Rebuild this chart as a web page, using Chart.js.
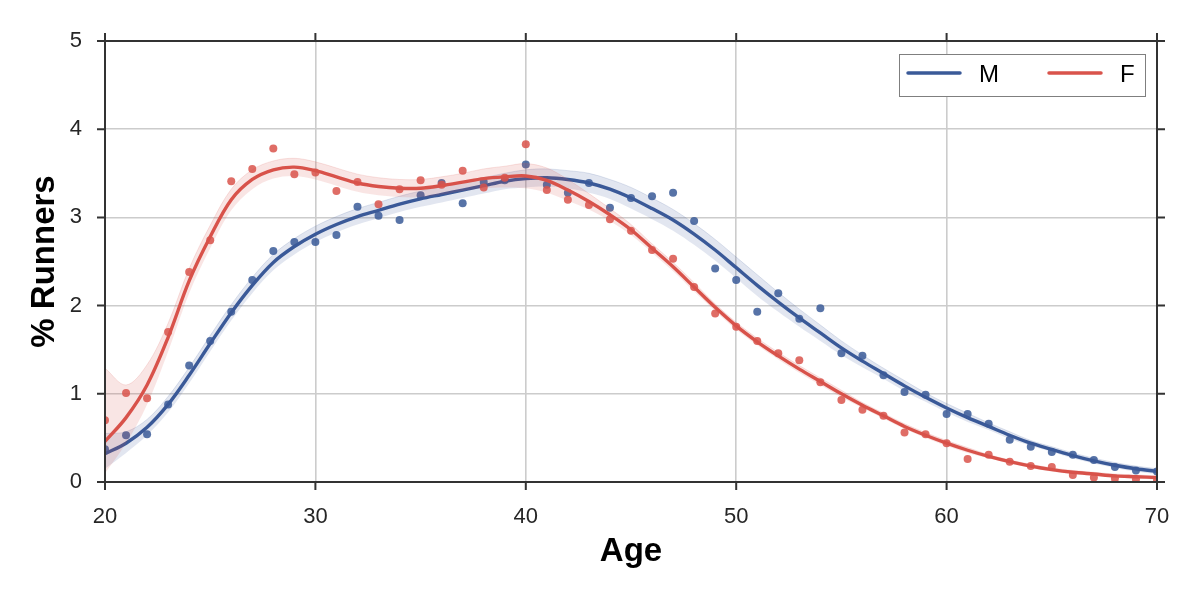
<!DOCTYPE html>
<html>
<head>
<meta charset="utf-8">
<script src="https://cdn.jsdelivr.net/npm/chart.js@4.4.1/dist/chart.umd.min.js"></script>
<style>
html,body{margin:0;padding:0;background:#fff;}
canvas{display:block;}
</style>
</head>
<body>
<canvas id="c" width="1200" height="600"></canvas>
<script>
const ages = [20,21,22,23,24,25,26,27,28,29,30,31,32,33,34,35,36,37,38,39,40,41,42,43,44,45,46,47,48,49,50,51,52,53,54,55,56,57,58,59,60,61,62,63,64,65,66,67,68,69,70];
const xTicks = [20,30,40,50,60,70];
const yTicks = [0,1,2,3,4,5];
const seriesNames = ["M","F"];

const mPoints = [0.37,0.53,0.54,0.88,1.32,1.60,1.93,2.29,2.62,2.72,2.72,2.80,3.12,3.02,2.97,3.25,3.39,3.16,3.40,3.42,3.60,3.37,3.28,3.39,3.11,3.22,3.24,3.28,2.96,2.42,2.29,1.93,2.14,1.85,1.97,1.46,1.43,1.21,1.02,0.99,0.77,0.77,0.66,0.48,0.40,0.34,0.31,0.25,0.17,0.13,0.12];
const fPoints = [0.70,1.01,0.95,1.70,2.38,2.74,3.41,3.55,3.78,3.49,3.51,3.30,3.40,3.15,3.32,3.42,3.37,3.53,3.34,3.45,3.83,3.31,3.20,3.14,2.98,2.85,2.63,2.53,2.21,1.91,1.76,1.60,1.46,1.38,1.13,0.93,0.82,0.75,0.56,0.54,0.44,0.26,0.31,0.23,0.18,0.17,0.08,0.05,0.04,0.03,0.02];

const mFit = [0.32,0.44,0.62,0.88,1.21,1.57,1.92,2.23,2.49,2.67,2.81,2.92,3.01,3.08,3.15,3.21,3.26,3.31,3.36,3.41,3.44,3.45,3.43,3.39,3.32,3.22,3.10,2.97,2.81,2.63,2.43,2.23,2.04,1.86,1.69,1.52,1.37,1.23,1.09,0.96,0.84,0.73,0.63,0.53,0.44,0.37,0.30,0.24,0.19,0.15,0.12];
const fFit = [0.46,0.73,1.10,1.64,2.28,2.78,3.20,3.43,3.54,3.57,3.53,3.46,3.39,3.35,3.33,3.33,3.36,3.40,3.44,3.46,3.47,3.42,3.31,3.18,3.03,2.86,2.65,2.44,2.21,1.98,1.77,1.59,1.43,1.28,1.14,1.00,0.87,0.75,0.63,0.53,0.44,0.36,0.29,0.23,0.18,0.14,0.11,0.09,0.07,0.06,0.05];

const mLow  = [0.15,0.33,0.53,0.79,1.12,1.48,1.83,2.14,2.40,2.58,2.72,2.83,2.92,2.99,3.06,3.12,3.17,3.22,3.27,3.32,3.34,3.35,3.33,3.28,3.21,3.10,2.98,2.85,2.69,2.51,2.31,2.11,1.93,1.76,1.60,1.44,1.30,1.17,1.03,0.91,0.79,0.68,0.59,0.49,0.41,0.34,0.27,0.21,0.16,0.12,0.09];
const mHigh = [0.55,0.57,0.71,0.97,1.30,1.66,2.01,2.32,2.58,2.76,2.90,3.01,3.10,3.17,3.24,3.30,3.35,3.40,3.45,3.50,3.54,3.55,3.53,3.50,3.43,3.34,3.22,3.09,2.93,2.75,2.55,2.35,2.15,1.96,1.78,1.60,1.44,1.29,1.15,1.01,0.89,0.78,0.67,0.57,0.47,0.40,0.33,0.27,0.22,0.18,0.15];
const fLow  = [0.10,0.44,0.88,1.48,2.14,2.65,3.08,3.32,3.44,3.47,3.43,3.36,3.29,3.25,3.23,3.23,3.26,3.30,3.33,3.34,3.33,3.28,3.19,3.09,2.96,2.80,2.60,2.39,2.16,1.94,1.73,1.55,1.39,1.24,1.10,0.96,0.84,0.72,0.60,0.50,0.41,0.33,0.27,0.21,0.16,0.12,0.09,0.07,0.05,0.04,0.03];
const fHigh = [1.29,1.10,1.33,1.80,2.42,2.91,3.32,3.54,3.64,3.67,3.63,3.56,3.49,3.45,3.43,3.43,3.46,3.50,3.55,3.58,3.61,3.56,3.43,3.27,3.10,2.92,2.70,2.49,2.26,2.02,1.81,1.63,1.47,1.32,1.18,1.04,0.90,0.78,0.66,0.56,0.47,0.39,0.31,0.25,0.20,0.16,0.13,0.11,0.09,0.08,0.07];

const BLUE = '#3a5a98';
const RED = '#d9534b';
const FONT = '"Liberation Sans", Arial, Helvetica, sans-serif';

function xy(vals){ return ages.map((a,i)=>({x:a,y:vals[i]})); }

function bandLine(vals, order){
  return {type:'line', data:xy(vals), borderWidth:0, pointRadius:0, tension:0.35, order:order, fill:false};
}

const datasets = [
  {type:'scatter', label:'Mpts', data:xy(mPoints), pointRadius:4, pointBackgroundColor:'rgba(58,90,152,0.85)', pointBorderWidth:0, order:60},
  {type:'line', label:'M', data:xy(mFit), borderColor:BLUE, borderWidth:3.4, pointRadius:0, tension:0.35, fill:false, order:50},
  Object.assign(bandLine(mLow, 41), {label:'mlow'}),
  Object.assign(bandLine(mHigh, 40), {label:'mhigh', fill:'-1', backgroundColor:'rgba(58,90,152,0.15)', borderColor:'rgba(58,90,152,0.2)', borderWidth:0.8}),
  {type:'scatter', label:'Fpts', data:xy(fPoints), pointRadius:4, pointBackgroundColor:'rgba(217,83,75,0.85)', pointBorderWidth:0, order:30},
  {type:'line', label:'F', data:xy(fFit), borderColor:RED, borderWidth:3.4, pointRadius:0, tension:0.35, fill:false, order:20},
  Object.assign(bandLine(fLow, 11), {label:'flow'}),
  Object.assign(bandLine(fHigh, 10), {label:'fhigh', fill:'-1', backgroundColor:'rgba(217,83,75,0.15)', borderColor:'rgba(217,83,75,0.2)', borderWidth:0.8})
];

const framePlugin = {
  id:'frame',
  afterDraw(chart){
    const {ctx, chartArea:a, scales} = chart;
    const xs = scales.x, ys = scales.y;
    ctx.save();
    ctx.strokeStyle = '#333333';
    ctx.lineWidth = 2;
    ctx.lineCap = 'butt';
    ctx.strokeRect(a.left, a.top, a.right - a.left, a.bottom - a.top);
    const L = 8;
    ctx.beginPath();
    xTicks.forEach(v=>{
      const p = xs.getPixelForValue(v);
      ctx.moveTo(p, a.bottom); ctx.lineTo(p, a.bottom + L);
      ctx.moveTo(p, a.top); ctx.lineTo(p, a.top - L);
    });
    yTicks.forEach(v=>{
      const p = ys.getPixelForValue(v);
      ctx.moveTo(a.left - L, p); ctx.lineTo(a.left, p);
      ctx.moveTo(a.right, p); ctx.lineTo(a.right + L, p);
    });
    ctx.stroke();

    const bx = 899.5, by = 54.5, bw = 246, bh = 42;
    ctx.fillStyle = '#ffffff';
    ctx.fillRect(bx, by, bw, bh);
    ctx.strokeStyle = '#7f7f7f';
    ctx.lineWidth = 1;
    ctx.strokeRect(bx, by, bw, bh);
    const items = [{name:seriesNames[0], color:BLUE, x0:908}, {name:seriesNames[1], color:RED, x0:1049}];
    ctx.lineCap = 'round';
    ctx.lineWidth = 3.5;
    ctx.font = '24px ' + FONT;
    ctx.textBaseline = 'alphabetic';
    ctx.textAlign = 'left';
    items.forEach(it=>{
      ctx.strokeStyle = it.color;
      ctx.beginPath();
      ctx.moveTo(it.x0, 73); ctx.lineTo(it.x0 + 52, 73);
      ctx.stroke();
      ctx.fillStyle = '#000';
      ctx.fillText(it.name, it.x0 + 71, 82);
    });
    ctx.restore();
  }
};

new Chart(document.getElementById('c'), {
  data:{datasets},
  options:{
    responsive:false,
    animation:false,
    devicePixelRatio:1,
    layout:{padding:{top:41, right:43, left:0, bottom:0}},
    plugins:{legend:{display:false}, tooltip:{enabled:false}},
    scales:{
      x:{
        type:'linear', min:20, max:70,
        afterFit(s){ s.height = 118; },
        afterBuildTicks(s){ s.ticks = xTicks.map(v=>({value:v})); },
        grid:{color:'#cccccc', lineWidth:1.6, drawTicks:false},
        border:{display:false},
        ticks:{font:{family:FONT, size:22}, color:'#262626', padding:22},
        title:{display:true, text:'Age', font:{family:FONT, size:33, weight:'bold'}, color:'#000', padding:{top:0, bottom:28}}
      },
      y:{
        type:'linear', min:0, max:5,
        afterFit(s){ s.width = 105; },
        afterBuildTicks(s){ s.ticks = yTicks.map(v=>({value:v})); },
        grid:{color:'#cccccc', lineWidth:1.6, drawTicks:false},
        border:{display:false},
        ticks:{font:{family:FONT, size:22}, color:'#262626', padding:23},
        title:{display:true, text:'% Runners', font:{family:FONT, size:33, weight:'bold'}, color:'#000', padding:{top:25, bottom:0}}
      }
    }
  },
  plugins:[framePlugin]
});
</script>
</body>
</html>
